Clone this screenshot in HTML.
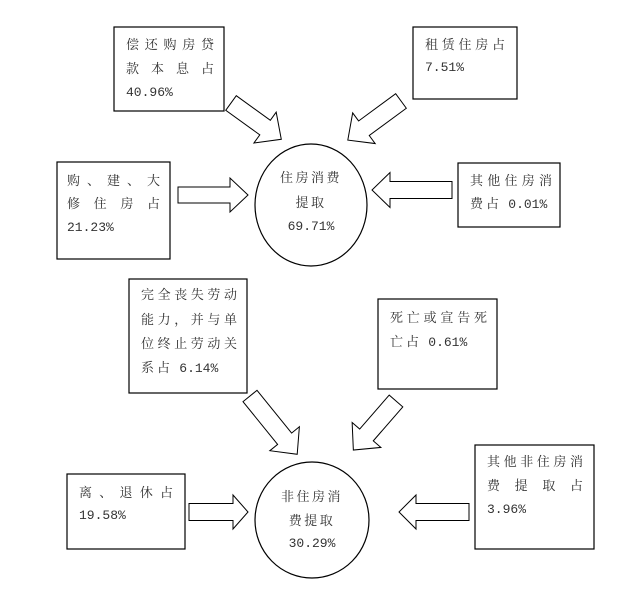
<!DOCTYPE html>
<html><head><meta charset="utf-8"><style>
body{margin:0;width:629px;height:600px;background:#fff;position:relative;overflow:hidden;font-family:"Liberation Serif","Noto Serif CJK SC","Noto Sans CJK SC",serif;font-size:13px;color:#333}
.l{position:absolute;height:16px;line-height:16px;white-space:nowrap;letter-spacing:3px}
.j{text-align:justify;text-align-last:justify;letter-spacing:0}
.c{text-align:center;letter-spacing:2.5px}
.n{font-family:"Liberation Mono",monospace;letter-spacing:0}
svg{position:absolute;left:0;top:0}
</style></head><body>
<svg width="629" height="600" fill="none" stroke="#000" stroke-width="1.2">
<rect x="114" y="27" width="110" height="84"/>
<rect x="57" y="162" width="113" height="97"/>
<rect x="413" y="27" width="104" height="72"/>
<rect x="458" y="163" width="102" height="64"/>
<rect x="129" y="279" width="118" height="114"/>
<rect x="378" y="299" width="119" height="90"/>
<rect x="67" y="474" width="118" height="75"/>
<rect x="475" y="445" width="119" height="104"/>
<ellipse cx="311" cy="205" rx="56" ry="61"/>
<ellipse cx="312" cy="520" rx="57" ry="58"/>
<g stroke-width="1">
<polygon transform="translate(178,195)" points="0,-8 52,-8 52,-17 70,0 52,17 52,8 0,8"/>
<polygon transform="translate(231,103) rotate(35.8)" points="0,-9 42,-9 42,-19 62,0 42,19 42,9 0,9"/>
<polygon transform="translate(401,101) rotate(143.7)" points="0,-9 46,-9 46,-19 66,0 46,19 46,9 0,9"/>
<polygon transform="translate(452,190) rotate(180)" points="0,-8.5 62,-8.5 62,-17.5 80,0 62,17.5 62,8.5 0,8.5"/>
<polygon transform="translate(250,396) rotate(51)" points="0,-9 55,-9 55,-19 75,0 55,19 55,9 0,9"/>
<polygon transform="translate(396,401) rotate(131)" points="0,-9 45,-9 45,-19 65,0 45,19 45,9 0,9"/>
<polygon transform="translate(189,512) rotate(0)" points="0,-8.5 44,-8.5 44,-17 59,0 44,17 44,8.5 0,8.5"/>
<polygon transform="translate(469,512) rotate(180)" points="0,-8.5 53,-8.5 53,-17 70,0 53,17 53,8.5 0,8.5"/>
</g>
</svg>

<div class="l j" style="left:126px;top:37px;width:88px">偿还购房贷</div>
<div class="l j" style="left:126px;top:61px;width:88px">款本息占</div>
<div class="l n" style="left:126px;top:85px">40.96%</div>

<div class="l j" style="left:67px;top:173px;width:93px">购、建、大</div>
<div class="l j" style="left:67px;top:196px;width:93px">修住房占</div>
<div class="l n" style="left:67px;top:220px">21.23%</div>

<div class="l j" style="left:425px;top:37px;width:80px">租赁住房占</div>
<div class="l n" style="left:425px;top:60px">7.51%</div>

<div class="l j" style="left:470px;top:173px;width:82px">其他住房消</div>
<div class="l" style="left:470px;top:196px">费占 <span class="n">0.01%</span></div>

<div class="l c" style="left:261px;top:170px;width:100px">住房消费</div>
<div class="l c" style="left:261px;top:195px;width:100px">提取</div>
<div class="l c n" style="left:261px;top:219px;width:100px;letter-spacing:0">69.71%</div>

<div class="l j" style="left:141px;top:287px;width:96px">完全丧失劳动</div>
<div class="l j" style="left:141px;top:312px;width:96px">能力，并与单</div>
<div class="l j" style="left:141px;top:336px;width:96px">位终止劳动关</div>
<div class="l" style="left:141px;top:360px">系占 <span class="n">6.14%</span></div>

<div class="l j" style="left:390px;top:310px;width:97px">死亡或宣告死</div>
<div class="l" style="left:390px;top:334px">亡占 <span class="n">0.61%</span></div>

<div class="l j" style="left:79px;top:485px;width:94px">离、退休占</div>
<div class="l n" style="left:79px;top:508px">19.58%</div>

<div class="l c" style="left:262px;top:489px;width:100px">非住房消</div>
<div class="l c" style="left:262px;top:513px;width:100px">费提取</div>
<div class="l c n" style="left:262px;top:536px;width:100px;letter-spacing:0">30.29%</div>

<div class="l j" style="left:487px;top:454px;width:96px">其他非住房消</div>
<div class="l j" style="left:487px;top:478px;width:96px">费提取占</div>
<div class="l n" style="left:487px;top:502px">3.96%</div>
</body></html>
